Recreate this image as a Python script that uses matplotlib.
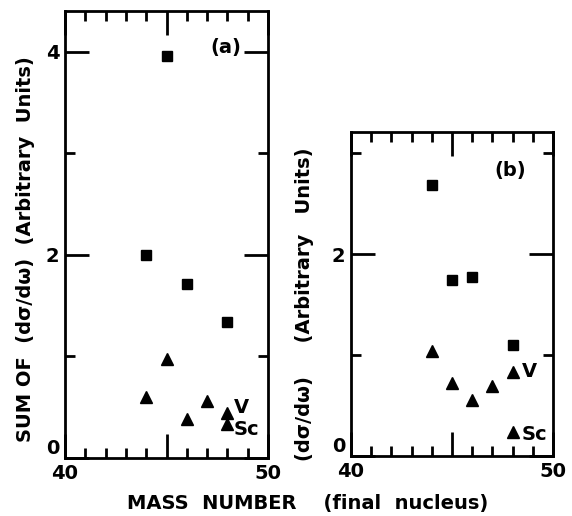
import matplotlib
matplotlib.use("Agg")
import matplotlib.pyplot as plt
from matplotlib.ticker import FixedLocator

# Panel (a) data
a_sq_x = [44, 45, 46, 48]
a_sq_y = [2.00, 3.96, 1.71, 1.34]
a_tri_x = [44, 45, 46, 47, 48, 48]
a_tri_y = [0.60, 0.97, 0.38, 0.56, 0.44, 0.33]

# Panel (b) data
b_sq_x = [44, 45, 46, 48]
b_sq_y = [2.68, 1.74, 1.77, 1.10]
b_tri_x = [44, 45, 46, 47, 48, 48]
b_tri_y = [1.04, 0.72, 0.55, 0.69, 0.83, 0.24]

xticks_major = [40, 50]
xticks_mid = [45]

W, H = 572, 516
fig = plt.figure(figsize=(W / 100, H / 100), dpi=100)
FONT = "DejaVu Sans"
FS = 14
FW = "bold"


def px_axes(l, t, r, b):
    return fig.add_axes([l / W, 1 - b / H, (r - l) / W, (b - t) / H])


def style(ax, ymax, ylabels):
    ax.set_xlim(40, 50)
    ax.set_ylim(0, ymax)
    for s in ax.spines.values():
        s.set_linewidth(2)
    ax.xaxis.set_major_locator(FixedLocator(xticks_major + xticks_mid))
    ax.xaxis.set_minor_locator(FixedLocator([41, 42, 43, 44, 46, 47, 48, 49]))
    ax.set_xticklabels(["40", "50", ""])
    ax.yaxis.set_major_locator(FixedLocator(ylabels))
    ax.yaxis.set_minor_locator(FixedLocator([1, 3]))
    ax.set_yticklabels([str(v) for v in ylabels])
    ax.tick_params(which="major", direction="in", length=17, width=2,
                   top=True, right=True, labelsize=FS, pad=4)
    ax.tick_params(which="minor", direction="in", length=7, width=2,
                   top=True, right=True)
    for lab in ax.get_xticklabels() + ax.get_yticklabels():
        lab.set_family(FONT)
        lab.set_fontweight(FW)
    ax.get_yticklabels()[0].set_verticalalignment("bottom")


ax1 = px_axes(65, 11, 268, 458)
style(ax1, 4.4, [0, 2, 4])
ax1.plot(a_sq_x, a_sq_y, ls="none", marker="s", ms=7.5, color="black")
ax1.plot(a_tri_x, a_tri_y, ls="none", marker="^", ms=9, color="black")
ax1.text(47.9, 4.04, "(a)", fontsize=FS, family=FONT, weight=FW, ha="center", va="center")
ax1.text(48.3, 0.50, "V", fontsize=FS, family=FONT, weight=FW, ha="left", va="center")
ax1.text(48.3, 0.28, "Sc", fontsize=FS, family=FONT, weight=FW, ha="left", va="center")

ax2 = px_axes(351, 132, 553, 456)
style(ax2, 3.21, [0, 2])
ax2.plot(b_sq_x, b_sq_y, ls="none", marker="s", ms=7.5, color="black")
ax2.plot(b_tri_x, b_tri_y, ls="none", marker="^", ms=9, color="black")
ax2.text(47.9, 2.83, "(b)", fontsize=FS, family=FONT, weight=FW, ha="center", va="center")
ax2.text(48.45, 0.84, "V", fontsize=FS, family=FONT, weight=FW, ha="left", va="center")
ax2.text(48.45, 0.21, "Sc", fontsize=FS, family=FONT, weight=FW, ha="left", va="center")

fig.text(26 / W, 1 - 249 / H, "SUM OF  (d\u03c3/d\u03c9)  (Arbitrary  Units)",
         rotation=90, ha="center", va="center", fontsize=FS, family=FONT, weight=FW)
fig.text(304 / W, 1 - 304 / H, "(d\u03c3/d\u03c9)     (Arbitrary   Units)",
         rotation=90, ha="center", va="center", fontsize=FS, family=FONT, weight=FW)
fig.text(308 / W, 1 - 504 / H, "MASS  NUMBER    (final  nucleus)",
         ha="center", va="center", fontsize=FS, family=FONT, weight=FW)

fig.savefig("out.png", dpi=100)
